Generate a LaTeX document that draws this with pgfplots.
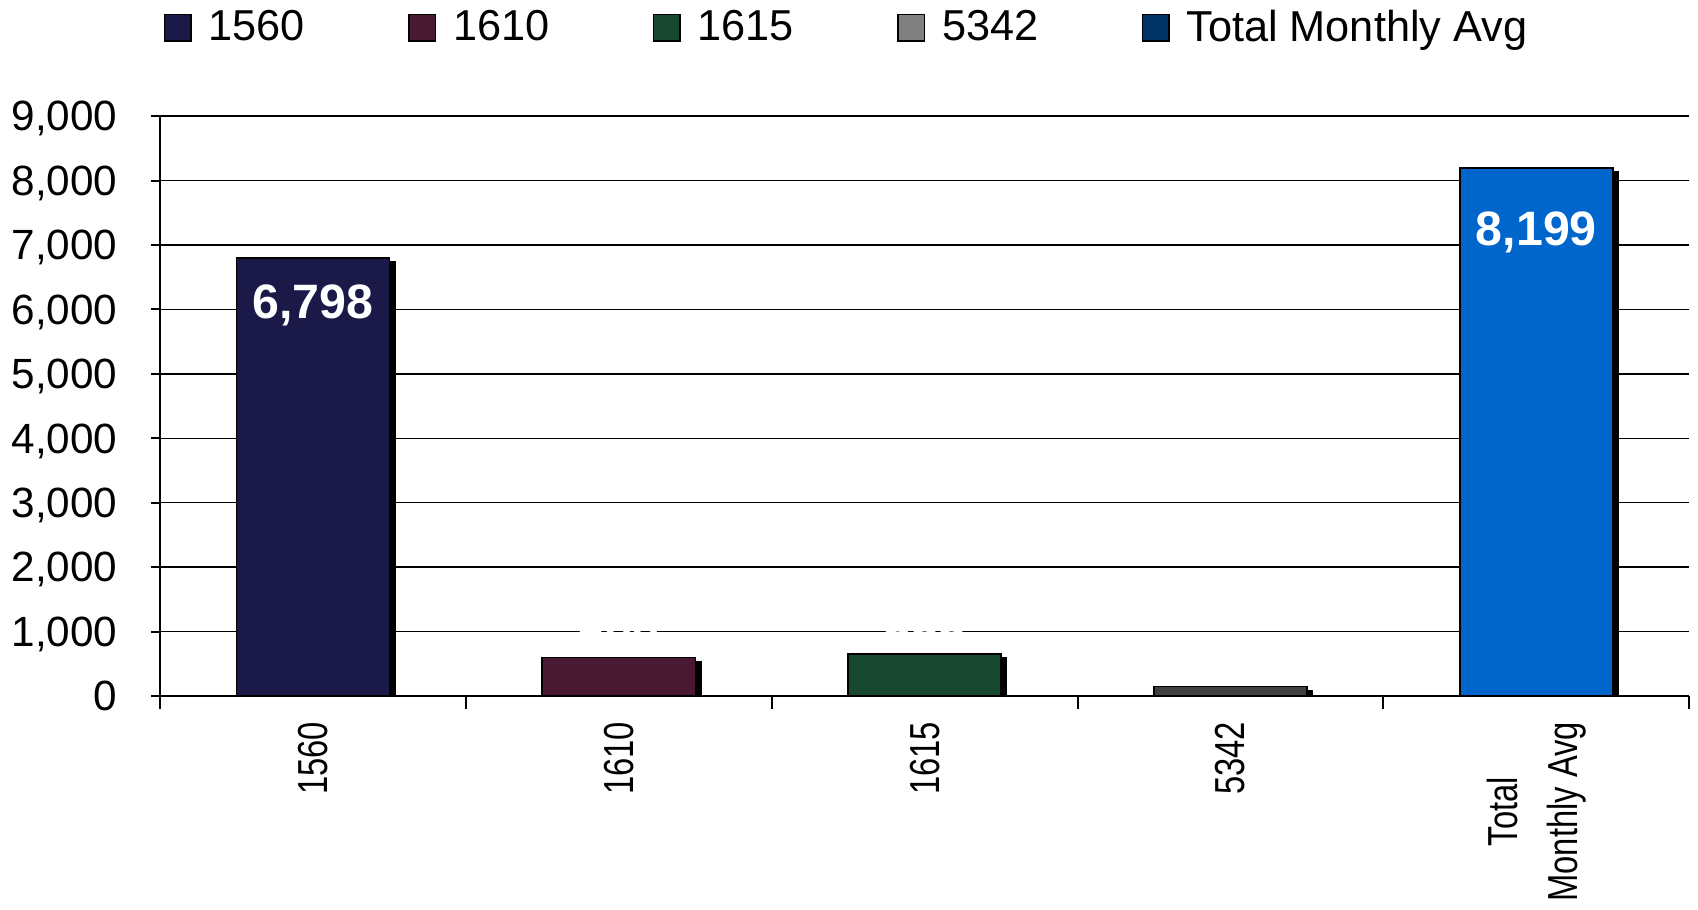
\documentclass[border=0pt]{standalone}
\usepackage{pgfplots}
\pgfplotsset{compat=1.18}
\usepackage{fontspec}
\setmainfont{Liberation Sans}
\newfontfamily\narrowfont[FakeStretch=0.78]{Liberation Sans}
\usetikzlibrary{shadows}

\definecolor{cA}{RGB}{26,25,72}
\definecolor{cB}{RGB}{73,25,49}
\definecolor{cC}{RGB}{25,72,48}
\definecolor{cD}{RGB}{64,64,64}
\definecolor{cDl}{RGB}{128,128,128}
\definecolor{cE}{RGB}{0,102,204}
\definecolor{cEl}{RGB}{0,51,102}

\begin{document}
\begin{tikzpicture}
\begin{axis}[
  scale only axis, width=459.3pt, height=174.2pt,
  at={(0,0)}, anchor=south west,
  xmin=-0.5, xmax=4.5, ymin=0, ymax=9000,
  axis x line*=bottom, axis y line*=left,
  axis line style={black, line width=0.6pt, -},
  tick align=outside, major tick length=2.6pt,
  tick style={black, line width=0.6pt},
  ytick={0,1000,...,9000},
  ymajorgrids, grid style={black, line width=0.45pt},
  xtick={0,1,2,3,4},
  xticklabels={1560,1610,1615,5342,{Total\\Monthly Avg}},
  xtick style={draw=none},
  extra x ticks={-0.5,0.5,1.5,2.5,3.5,4.5},
  extra x tick labels={},
  extra x tick style={major tick length=3.9pt, grid=none, xtick style={draw=black}},
  /pgf/number format/assume math mode=true,
  /pgf/number format/1000 sep={,},
  yticklabel style={font=\fontsize{12.7}{15}\selectfont, inner sep=0pt, text depth=0pt},
  yticklabel shift=10pt,
  xticklabel style={font=\narrowfont\fontsize{12.6}{18}\selectfont, rotate=90, anchor=east, align=center, inner sep=0pt},
  xticklabel shift=5pt,
  bar width=46pt,
  legend image code/.code={\draw[#1, draw=black, line width=0.5pt] (0pt,-4pt) rectangle (8pt,4pt);},
  legend style={draw=none, fill=none, legend columns=-1, at={(0.002,1.152)}, anchor=west,
    inner sep=0pt, font=\fontsize{13}{15}\selectfont, nodes={inner sep=0pt},
    /tikz/every odd column/.append style={column sep=5pt},
    /tikz/every even column/.append style={column sep=31pt}},
  shbar/.style={ybar, bar shift=0pt, draw=black, line width=0.5pt, forget plot,
    drop shadow={shadow xshift=1.6pt, shadow yshift=-1.2pt, opacity=1, fill=black}},
  nodes near coords style={white, font=\fontsize{14.5}{16}\selectfont\bfseries, anchor=center},
]
\addlegendimage{fill=cA}
\addlegendimage{fill=cB}
\addlegendimage{fill=cC}
\addlegendimage{fill=cDl}
\addlegendimage{fill=cEl}

\addplot[shbar, fill=cA, nodes near coords, nodes near coords style={yshift=-14.1pt}]
  coordinates {(0,6798)};
\addplot[shbar, fill=cB, nodes near coords, nodes near coords style={yshift=7.5pt}]
  coordinates {(1,600)};
\addplot[shbar, fill=cC, nodes near coords, nodes near coords style={yshift=6.6pt}]
  coordinates {(2,655)};
\addplot[shbar, fill=cD]
  coordinates {(3,146)};
\addplot[shbar, fill=cE, nodes near coords, nodes near coords style={yshift=-19.5pt}]
  coordinates {(4,8199)};

\legend{1560,1610,1615,5342,Total Monthly Avg}
\end{axis}
\pgfresetboundingbox
\path[use as bounding box] (-48.06pt,-64pt) rectangle (461.94pt,209.05pt);
\end{tikzpicture}
\end{document}
